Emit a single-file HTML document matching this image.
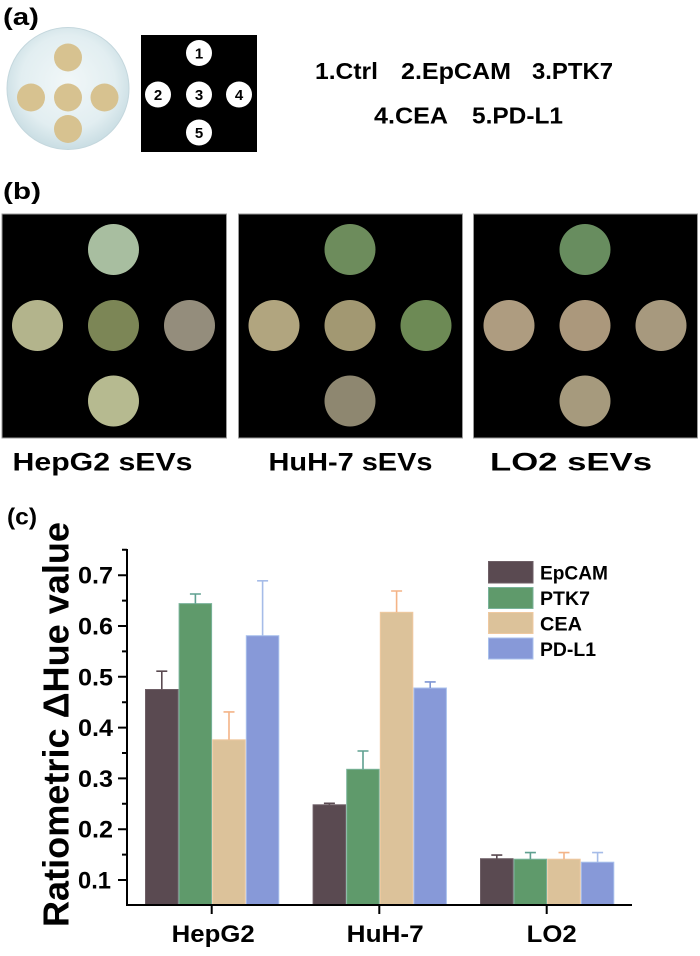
<!DOCTYPE html>
<html>
<head>
<meta charset="utf-8">
<style>
html,body{margin:0;padding:0;background:#fff;}
svg{display:block;}
text{font-family:"Liberation Sans",Arial,sans-serif;font-weight:bold;fill:#000;}
</style>
</head>
<body>
<svg width="700" height="956" viewBox="0 0 700 956" xmlns="http://www.w3.org/2000/svg">
<defs>
<radialGradient id="dish" cx="0.5" cy="0.45" r="0.55">
<stop offset="0" stop-color="#f1f7f8"/>
<stop offset="0.7" stop-color="#e2eef1"/>
<stop offset="1" stop-color="#c9dde3"/>
</radialGradient>
</defs>

<!-- (a) -->
<text x="3" y="25" font-size="24" textLength="36" lengthAdjust="spacingAndGlyphs">(a)</text>
<circle cx="68" cy="88.5" r="61" fill="url(#dish)" stroke="#c4d7dd" stroke-width="1"/>
<g fill="#d7c290">
<circle cx="68" cy="57.5" r="14"/>
<circle cx="31" cy="97.5" r="14"/>
<circle cx="68" cy="97.5" r="14"/>
<circle cx="104.5" cy="97.5" r="14"/>
<circle cx="68" cy="129" r="14"/>
</g>
<rect x="141" y="35" width="116" height="117" fill="#000"/>
<g fill="#fff">
<circle cx="199" cy="53" r="13"/>
<circle cx="158" cy="94.5" r="13"/>
<circle cx="199" cy="94.5" r="13"/>
<circle cx="239" cy="94.5" r="13"/>
<circle cx="199" cy="132.5" r="13"/>
</g>
<g font-size="15" text-anchor="middle">
<text x="199" y="58.5">1</text>
<text x="158" y="100">2</text>
<text x="199" y="100">3</text>
<text x="239" y="100">4</text>
<text x="199" y="138">5</text>
</g>
<g font-size="23">
<text x="315" y="79" textLength="63" lengthAdjust="spacingAndGlyphs">1.Ctrl</text>
<text x="401" y="79" textLength="110" lengthAdjust="spacingAndGlyphs">2.EpCAM</text>
<text x="532" y="79" textLength="81" lengthAdjust="spacingAndGlyphs">3.PTK7</text>
<text x="374" y="123.3" textLength="74" lengthAdjust="spacingAndGlyphs">4.CEA</text>
<text x="472" y="123.3" textLength="91" lengthAdjust="spacingAndGlyphs">5.PD-L1</text>
</g>

<!-- (b) -->
<text x="3" y="199" font-size="23" textLength="38" lengthAdjust="spacingAndGlyphs">(b)</text>
<g stroke="#9a9a9a" stroke-width="1">
<rect x="2" y="214" width="224.5" height="224" fill="#000"/>
<rect x="238.5" y="214" width="224" height="224" fill="#000"/>
<rect x="473.5" y="214" width="224" height="224" fill="#000"/>
</g>
<!-- HepG2 -->
<g>
<circle cx="113.5" cy="249.5" r="25.5" fill="#a8bea0"/>
<circle cx="37.5" cy="325.5" r="25.5" fill="#b3b48c"/>
<circle cx="113.5" cy="325.5" r="25.5" fill="#7c8656"/>
<circle cx="189.5" cy="325.5" r="25.5" fill="#948d7c"/>
<circle cx="113.5" cy="401" r="25.5" fill="#b6ba90"/>
</g>
<!-- HuH-7 -->
<g>
<circle cx="350" cy="249.5" r="25.5" fill="#6d8c5c"/>
<circle cx="274" cy="325.5" r="25.5" fill="#b1a57f"/>
<circle cx="350" cy="325.5" r="25.5" fill="#a29872"/>
<circle cx="426" cy="325.5" r="25.5" fill="#6d8a55"/>
<circle cx="350" cy="401" r="25.5" fill="#8e8770"/>
</g>
<!-- LO2 -->
<g>
<circle cx="585" cy="249.5" r="25.5" fill="#688d5f"/>
<circle cx="509" cy="325.5" r="25.5" fill="#ae9c80"/>
<circle cx="585" cy="325.5" r="25.5" fill="#ab987c"/>
<circle cx="661" cy="325.5" r="25.5" fill="#a7997e"/>
<circle cx="585" cy="401" r="25.5" fill="#a69a7d"/>
</g>
<g font-size="25">
<text x="12.5" y="470.7" textLength="180" lengthAdjust="spacingAndGlyphs">HepG2 sEVs</text>
<text x="268.5" y="470.7" textLength="164" lengthAdjust="spacingAndGlyphs">HuH-7 sEVs</text>
<text x="490" y="470.7" textLength="162" lengthAdjust="spacingAndGlyphs">LO2 sEVs</text>
</g>

<!-- (c) -->
<text x="7" y="524.5" font-size="23" textLength="30" lengthAdjust="spacingAndGlyphs">(c)</text>
<text transform="translate(68.5,927) rotate(-90)" font-size="36" textLength="405" lengthAdjust="spacingAndGlyphs">Ratiometric ΔHue value</text>

<!-- bars -->
<g stroke-width="1">
<!-- HepG2 -->
<rect x="145.5" y="689.5" width="32.5" height="215" fill="#5a4a51" stroke="#6e5f66"/>
<rect x="179.1" y="603.6" width="32.5" height="300.9" fill="#5f9a6b" stroke="#79b39a"/>
<rect x="212.7" y="739.8" width="32.5" height="164.7" fill="#dcc29a" stroke="#f0c9a0"/>
<rect x="246.3" y="635.7" width="32.5" height="268.8" fill="#8799d8" stroke="#a8c0ec"/>
<!-- HuH-7 -->
<rect x="313.1" y="804.8" width="32.5" height="99.7" fill="#5a4a51" stroke="#6e5f66"/>
<rect x="346.7" y="769.3" width="32.5" height="135.2" fill="#5f9a6b" stroke="#79b39a"/>
<rect x="380.3" y="612.3" width="32.5" height="292.2" fill="#dcc29a" stroke="#f0c9a0"/>
<rect x="413.9" y="688" width="32.5" height="216.5" fill="#8799d8" stroke="#a8c0ec"/>
<!-- LO2 -->
<rect x="480.5" y="858.7" width="32.5" height="45.8" fill="#5a4a51" stroke="#6e5f66"/>
<rect x="514.1" y="859.2" width="32.5" height="45.3" fill="#5f9a6b" stroke="#79b39a"/>
<rect x="547.7" y="859.2" width="32.5" height="45.3" fill="#dcc29a" stroke="#f0c9a0"/>
<rect x="581.3" y="862.2" width="32.5" height="42.3" fill="#8799d8" stroke="#a8c0ec"/>
</g>

<!-- error bars -->
<g stroke-width="1.6" fill="none">
<path d="M161.8 689.5V671.2M156.3 671.2H167.3" stroke="#5a4a51"/>
<path d="M195.4 603.6V594M189.9 594H200.9" stroke="#5fa090"/>
<path d="M229 739.8V711.9M223.5 711.9H234.5" stroke="#f4b487"/>
<path d="M262.6 635.7V580.8M257.1 580.8H268.1" stroke="#a6bce8"/>

<path d="M329.4 804.8V803.3M323.9 803.3H334.9" stroke="#5a4a51"/>
<path d="M363 769.3V751M357.5 751H368.5" stroke="#5fa090"/>
<path d="M396.6 612.3V591M391.1 591H402.1" stroke="#f4b487"/>
<path d="M430.2 688V681.9M424.7 681.9H435.7" stroke="#7f96d4"/>

<path d="M496.8 858.7V855.1M491.3 855.1H502.3" stroke="#5a4a51"/>
<path d="M530.4 859.2V852.6M524.9 852.6H535.9" stroke="#5fa090"/>
<path d="M564 859.2V852.6M558.5 852.6H569.5" stroke="#f4b487"/>
<path d="M597.6 862.2V852.6M592.1 852.6H603.1" stroke="#a6bce8"/>
</g>

<!-- axes -->
<g stroke="#000" stroke-width="2" fill="none">
<path d="M127 549V906"/>
<path d="M126 905H632"/>
<!-- major ticks -->
<path d="M118 575.2H127M118 626H127M118 676.8H127M118 727.6H127M118 778.4H127M118 829.2H127M118 880H127"/>
<!-- minor ticks -->
<path d="M122 549.8H127M122 600.6H127M122 651.4H127M122 702.2H127M122 753H127M122 803.8H127M122 854.6H127"/>
<!-- x ticks -->
<path d="M211.7 905V914M379.3 905V914M546.7 905V914"/>
</g>
<g font-size="24">
<text x="78" y="583.7" textLength="35" lengthAdjust="spacingAndGlyphs">0.7</text>
<text x="78" y="634.5" textLength="35" lengthAdjust="spacingAndGlyphs">0.6</text>
<text x="78" y="685.3" textLength="35" lengthAdjust="spacingAndGlyphs">0.5</text>
<text x="78" y="736.1" textLength="35" lengthAdjust="spacingAndGlyphs">0.4</text>
<text x="78" y="786.9" textLength="35" lengthAdjust="spacingAndGlyphs">0.3</text>
<text x="78" y="837.7" textLength="35" lengthAdjust="spacingAndGlyphs">0.2</text>
<text x="78" y="888.5" textLength="33" lengthAdjust="spacingAndGlyphs">0.1</text>
</g>
<g font-size="24">
<text x="171.7" y="942" textLength="83" lengthAdjust="spacingAndGlyphs">HepG2</text>
<text x="346.7" y="942" textLength="77" lengthAdjust="spacingAndGlyphs">HuH-7</text>
<text x="526.7" y="942" textLength="50" lengthAdjust="spacingAndGlyphs">LO2</text>
</g>

<!-- legend -->
<rect x="488.5" y="561.5" width="44.5" height="21.5" fill="#5a4a51" stroke="#6e5f66"/>
<rect x="488.5" y="587.5" width="44.5" height="21" fill="#5f9a6b" stroke="#79b39a"/>
<rect x="488.5" y="612.5" width="44.5" height="21" fill="#dcc29a" stroke="#f0c9a0"/>
<rect x="488.5" y="638" width="44.5" height="21" fill="#8799d8" stroke="#a8c0ec"/>
<g font-size="19">
<text x="540" y="579.3" textLength="68" lengthAdjust="spacingAndGlyphs">EpCAM</text>
<text x="540" y="605" textLength="50" lengthAdjust="spacingAndGlyphs">PTK7</text>
<text x="540" y="630.5" textLength="42" lengthAdjust="spacingAndGlyphs">CEA</text>
<text x="540" y="656" textLength="56" lengthAdjust="spacingAndGlyphs">PD-L1</text>
</g>
</svg>
</body>
</html>
